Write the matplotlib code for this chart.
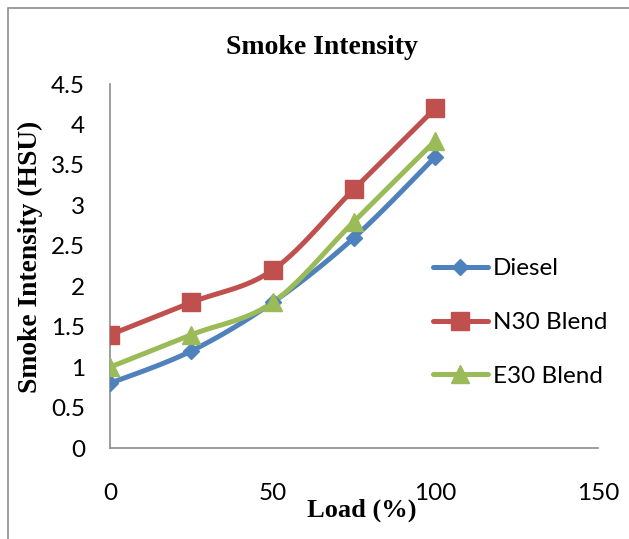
import numpy as np
import matplotlib.pyplot as plt
from matplotlib.patches import Rectangle

# load steps (%) and smoke readings (HSU)
load = [0, 25, 50, 75, 100]
diesel = [0.8, 1.2, 1.8, 2.6, 3.6]
n30 = [1.4, 1.8, 2.2, 3.2, 4.2]
e30 = [1.0, 1.4, 1.8, 2.8, 3.8]

series_names = ['Diesel', 'N30 Blend', 'E30 Blend']
series_colours = ['#4F81BD', '#C0504D', '#9BBB59']
series_markers = ['D', 's', '^']
marker_sizes = [8.5, 13, 13]


def smooth(x, y, n=30):
    # catmull-rom style curve through the points, like a spreadsheet "smoothed line"
    x = np.asarray(x, float)
    y = np.asarray(y, float)
    px = np.concatenate([[x[0]], x, [x[-1]]])
    py = np.concatenate([[y[0]], y, [y[-1]]])
    xs, ys = [], []
    t = np.linspace(0, 1, n)
    for i in range(1, len(px) - 2):
        p0x, p1x, p2x, p3x = px[i - 1:i + 3]
        p0y, p1y, p2y, p3y = py[i - 1:i + 3]
        c1x, c1y = p1x + (p2x - p0x) / 6, p1y + (p2y - p0y) / 6
        c2x, c2y = p2x - (p3x - p1x) / 6, p2y - (p3y - p1y) / 6
        bx = (1 - t)**3 * p1x + 3 * (1 - t)**2 * t * c1x + 3 * (1 - t) * t**2 * c2x + t**3 * p2x
        by = (1 - t)**3 * p1y + 3 * (1 - t)**2 * t * c1y + 3 * (1 - t) * t**2 * c2y + t**3 * p2y
        xs.extend(bx)
        ys.extend(by)
    return xs, ys


fig = plt.figure(figsize=(6.29, 5.39), dpi=100)
ax = fig.add_axes([0.1749, 0.1688, 0.7758, 0.6753])

# outer chart border
fig.patches.append(Rectangle((8 / 629, -0.05), 1.1, 1 - 8 / 539 + 0.05, transform=fig.transFigure,
                             fill=False, edgecolor='#8c8c8c', linewidth=1.2))

handles = []
for vals, name, col, mk, ms in zip([diesel, n30, e30], series_names, series_colours,
                                   series_markers, marker_sizes):
    sx, sy = smooth(load, vals)
    ax.plot(sx, sy, color=col, linewidth=3.6, solid_capstyle='round', zorder=2)
    ax.plot(load, vals, linestyle='none', marker=mk, markersize=ms, color=col, zorder=3)
    h, = ax.plot([], [], color=col, linewidth=3.6, marker=mk, markersize=ms,
                 solid_capstyle='round', label=name)
    handles.append(h)

ax.set_xlim(0, 150)
ax.set_ylim(0, 4.5)
ax.set_xticks([0, 50, 100, 150])
ax.set_yticks(np.arange(0, 4.51, 0.5))
ax.set_yticklabels(['0', '0.5', '1', '1.5', '2', '2.5', '3', '3.5', '4', '4.5'])

for side in ['top', 'right']:
    ax.spines[side].set_visible(False)
for side in ['left', 'bottom']:
    ax.spines[side].set_color('#8c8c8c')
    ax.spines[side].set_linewidth(1.2)

ax.tick_params(axis='x', length=0, pad=25, labelsize=17.5)
ax.tick_params(axis='y', length=0, pad=18, labelsize=17.5)
for lbl in ax.get_xticklabels() + ax.get_yticklabels():
    lbl.set_fontfamily('Lato')

fig.text(0.512, 0.900, 'Smoke Intensity', ha='center', va='baseline',
         fontsize=20, fontweight='bold', family='Liberation Serif')
fig.text(0.048, 0.524, 'Smoke Intensity (HSU)', ha='center', va='center', rotation=90,
         fontsize=19.8, fontweight='bold', family='Liberation Serif')
fig.text(0.5755, 0.0408, 'Load (%)', ha='center', va='baseline',
         fontsize=19, fontweight='bold', family='Liberation Serif')

fig.legend(handles=handles, loc='upper left', bbox_to_anchor=(0.688, 0.521),
           frameon=False, prop={'family': 'Lato', 'size': 17.5}, labelspacing=1.35,
           handlelength=2.26, handletextpad=0.2, borderpad=0, borderaxespad=0)

fig.savefig('out.png', dpi=100)
